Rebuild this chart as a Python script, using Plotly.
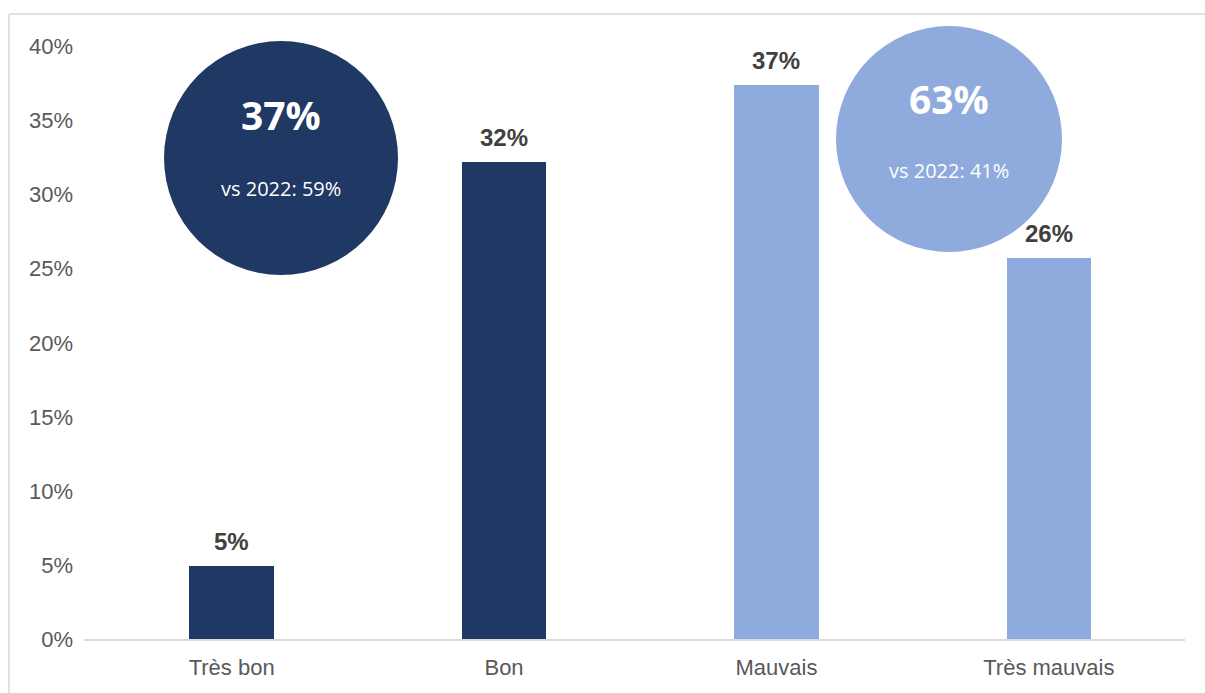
import plotly.graph_objects as go

# Survey answers and their shares
categories = ["Très bon", "Bon", "Mauvais", "Très mauvais"]
shares = [0.049, 0.322, 0.374, 0.257]
bar_colors = ["#203864", "#203864", "#8FAADC", "#8FAADC"]

# Group totals (positive vs negative) and the 2022 comparison
groups = [[0, 1], [2, 3]]
group_colors = ["#203864", "#8FAADC"]
previous_year = [0.59, 0.41]

y_ticks = [0, 0.05, 0.10, 0.15, 0.20, 0.25, 0.30, 0.35, 0.40]

W, H = 1205, 693
M_L, M_R, M_T, M_B = 84, 20, 17, 54
PW, PH = W - M_L - M_R, H - M_T - M_B


def px_x(px):
    return (px - M_L) / PW


def px_y(py):
    return (H - M_B - py) / PH


fig = go.Figure(
    go.Bar(
        x=list(range(len(categories))),
        y=shares,
        width=0.31,
        marker=dict(color=bar_colors, line=dict(width=0)),
        hoverinfo="skip",
    )
)

# Value labels above each bar
for i, v in enumerate(shares):
    fig.add_annotation(
        x=i, y=v, xref="x", yref="y",
        text=f"<b>{v:.0%}</b>", showarrow=False,
        yanchor="bottom", yshift=9,
        font=dict(family="Liberation Sans", size=24, color="#404040"),
    )

# Summary bubbles: total share of each group, with 2022 figure
bubbles = [
    dict(cx=281, cy=158, r=117, main_y=114, sub_y=188),
    dict(cx=949, cy=139, r=113, main_y=98, sub_y=171),
]
for g, b, col, prev in zip(groups, bubbles, group_colors, previous_year):
    total = sum(shares[i] for i in g)
    fig.add_shape(
        type="circle", xref="paper", yref="paper",
        x0=px_x(b["cx"] - b["r"]), x1=px_x(b["cx"] + b["r"]),
        y0=px_y(b["cy"] + b["r"]), y1=px_y(b["cy"] - b["r"]),
        fillcolor=col, line=dict(width=0), layer="above",
    )
    fig.add_annotation(
        x=px_x(b["cx"]), y=px_y(b["main_y"]), xref="paper", yref="paper",
        text=f"<b>{total:.0%}</b>", showarrow=False,
        xanchor="center", yanchor="middle",
        font=dict(family="Open Sans", size=39, color="white"),
    )
    fig.add_annotation(
        x=px_x(b["cx"]), y=px_y(b["sub_y"]), xref="paper", yref="paper",
        text=f"vs 2022: {prev:.0%}", showarrow=False,
        xanchor="center", yanchor="middle",
        font=dict(family="Open Sans", size=20, color="white"),
    )

# Outer frame (top and left edges)
frame = dict(color="#d9d9d9", width=1.5)
fig.add_shape(type="line", xref="paper", yref="paper",
              x0=px_x(9), x1=px_x(W + 5), y0=px_y(14), y1=px_y(14), line=frame)
fig.add_shape(type="line", xref="paper", yref="paper",
              x0=px_x(9), x1=px_x(9), y0=px_y(14), y1=px_y(H + 5), line=frame)

fig.update_layout(
    width=W, height=H,
    margin=dict(l=M_L, r=M_R, t=M_T, b=M_B),
    paper_bgcolor="white", plot_bgcolor="white",
    showlegend=False,
    bargap=0,
    xaxis=dict(
        range=[-0.542, 3.5],
        tickmode="array",
        tickvals=list(range(len(categories))),
        ticktext=categories,
        showgrid=False, zeroline=False,
        showline=True, linecolor="#d9d9d9", linewidth=1.5,
        ticks="", ticklabelstandoff=8,
        tickfont=dict(family="Liberation Sans", size=22, color="#595959"),
    ),
    yaxis=dict(
        range=[0, 0.42],
        tickmode="array",
        tickvals=y_ticks,
        ticktext=[f"{t:.0%}" for t in y_ticks],
        showgrid=False, zeroline=False, showline=False,
        ticks="", ticklabelstandoff=10,
        tickfont=dict(family="Liberation Sans", size=22, color="#595959"),
    ),
)

fig.write_html("out.html")
